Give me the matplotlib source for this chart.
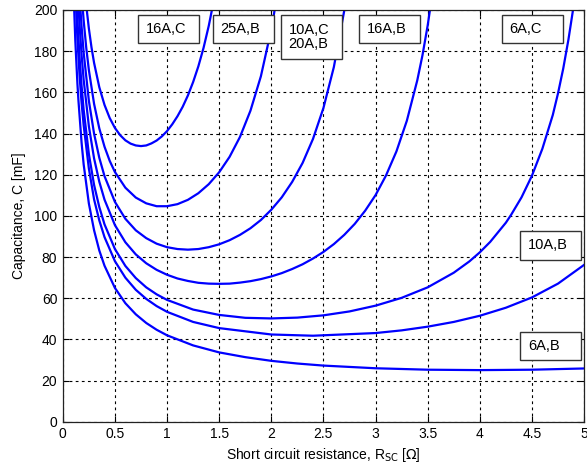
import numpy as np
import matplotlib
matplotlib.use("Agg")
import matplotlib.pyplot as plt
from matplotlib.patches import Rectangle

plt.rcParams['font.family'] = ['Liberation Sans', 'DejaVu Sans']

# curves: resistance [ohm] and capacitance [mF]
r_16AC = [0.15, 0.175, 0.2, 0.225, 0.25, 0.275, 0.3, 0.35, 0.4, 0.45, 0.5, 0.55, 0.6, 0.65, 0.7, 0.75, 0.8,
          0.85, 0.9, 0.95, 1.0, 1.05, 1.1, 1.15, 1.2, 1.25, 1.3, 1.35, 1.4, 1.45, 1.5]
c_16AC = [255.9, 233.1, 215.7, 202.1, 191.0, 181.9, 174.3, 162.5, 153.9, 147.5, 142.7, 139.2, 136.7, 135.1, 134.2,
          133.9, 134.2, 135.2, 136.6, 138.6, 141.2, 144.5, 148.4, 153.0, 158.5, 165.0, 172.6, 181.6, 192.3, 205.0, 220.4]

r_25AB = [0.12, 0.14, 0.16, 0.18, 0.2, 0.225, 0.25, 0.3, 0.35, 0.4, 0.45, 0.5, 0.6, 0.7, 0.8, 0.9, 1.0, 1.1,
          1.2, 1.3, 1.4, 1.5, 1.6, 1.7, 1.8, 1.9, 2.0, 2.05, 2.1]
c_25AB = [270.9, 244.5, 224.2, 208.0, 194.9, 181.6, 170.8, 154.4, 142.5, 133.6, 126.7, 121.3, 113.7, 108.9, 106.1,
          104.7, 104.7, 105.7, 107.8, 111.0, 115.4, 121.2, 128.7, 138.4, 151.1, 167.8, 190.6, 205.2, 222.9]

r_10AC = [0.1, 0.12, 0.14, 0.16, 0.18, 0.2, 0.25, 0.3, 0.35, 0.4, 0.5, 0.6, 0.7, 0.8, 0.9, 1.0, 1.1, 1.2, 1.3,
          1.4, 1.5, 1.6, 1.7, 1.8, 1.9, 2.0, 2.1, 2.2, 2.3, 2.4, 2.5, 2.6, 2.7, 2.8]
c_10AC = [287.3, 252.6, 227.1, 207.5, 192.0, 179.3, 155.9, 139.9, 128.2, 119.3, 106.8, 98.6, 93.0, 89.2, 86.5,
          84.8, 83.9, 83.6, 83.9, 84.8, 86.2, 88.2, 90.8, 94.0, 98.0, 103.0, 109.0, 116.5, 125.7, 137.4, 152.4,
          172.3, 199.8, 239.5]

r_16AB = [0.08, 0.1, 0.12, 0.14, 0.16, 0.18, 0.2, 0.25, 0.3, 0.35, 0.4, 0.5, 0.6, 0.7, 0.8, 0.9, 1.0, 1.1, 1.2,
          1.3, 1.4, 1.5, 1.6, 1.7, 1.8, 1.9, 2.0, 2.1, 2.2, 2.3, 2.4, 2.5, 2.6, 2.7, 2.8, 2.9, 3.0, 3.1, 3.2,
          3.3, 3.4, 3.45, 3.5, 3.55, 3.6]
c_16AB = [318.3, 270.0, 236.6, 212.1, 193.3, 178.3, 166.1, 143.5, 127.9, 116.6, 107.9, 95.5, 87.2, 81.3, 77.0,
          73.8, 71.4, 69.6, 68.4, 67.5, 67.1, 67.0, 67.1, 67.6, 68.3, 69.3, 70.6, 72.2, 74.2, 76.5, 79.3, 82.5,
          86.3, 90.8, 96.1, 102.5, 110.1, 119.6, 131.3, 146.2, 165.8, 178.0, 192.5, 209.7, 231.0]

r_6AC = [0.06, 0.08, 0.1, 0.12, 0.14, 0.16, 0.18, 0.2, 0.25, 0.3, 0.35, 0.4, 0.5, 0.6, 0.7, 0.8, 0.9, 1.0, 1.25,
         1.5, 1.75, 2.0, 2.25, 2.5, 2.75, 3.0, 3.25, 3.5, 3.75, 3.9, 4.0, 4.1, 4.25, 4.3, 4.4, 4.5, 4.6, 4.7,
         4.75, 4.8, 4.85, 4.9, 4.95, 5.0]
c_6AC = [370, 297, 250, 219, 195.4, 177.4, 163.2, 151.5, 130, 115, 104.3, 95.9, 83.9, 75.7, 69.8, 65.3, 61.9,
         59.2, 54.5, 51.9, 50.5, 50.2, 50.6, 51.7, 53.6, 56.4, 60.2, 65.3, 72.4, 77.9, 82.3, 87.4, 96.7, 100.5,
         109.0, 119.5, 132.6, 149, 159.5, 171.5, 185.6, 202, 222.7, 248]

r_10AB = [0.06, 0.08, 0.1, 0.12, 0.14, 0.16, 0.18, 0.2, 0.25, 0.3, 0.35, 0.4, 0.5, 0.6, 0.7, 0.8, 0.9, 1.0,
          1.25, 1.5, 2.0, 2.4, 3.0, 3.25, 3.5, 3.75, 4.0, 4.25, 4.5, 4.75, 5.0]
c_10AB = [356, 284, 240, 209, 186.1, 168.7, 154.9, 144, 123, 108, 97.8, 89.7, 78.0, 70.0, 64.1, 59.7, 56.2,
          53.4, 48.5, 45.5, 42.4, 41.8, 43.1, 44.4, 46.2, 48.5, 51.5, 55.4, 60.4, 67.1, 76.2]

r_6AB = [0.06, 0.08, 0.1, 0.12, 0.14, 0.15, 0.18, 0.2, 0.25, 0.3, 0.35, 0.4, 0.5, 0.6, 0.7, 0.8, 0.9, 1.0,
         1.25, 1.5, 1.75, 2.0, 2.25, 2.5, 3.0, 3.5, 4.0, 4.5, 5.0]
c_6AB = [321, 254, 213, 185, 164.3, 156, 135.6, 125, 106, 93, 83.2, 75.8, 65.0, 57.6, 52.2, 48.0, 44.7, 42.0,
         37.1, 33.7, 31.4, 29.6, 28.3, 27.3, 26.0, 25.3, 25.1, 25.3, 25.9]

curves = [(r_16AC, c_16AC), (r_25AB, c_25AB), (r_10AC, c_10AC), (r_16AB, c_16AB),
          (r_6AC, c_6AC), (r_10AB, c_10AB), (r_6AB, c_6AB)]

labels = ["16A,C", "25A,B", "10A,C\n20A,B", "16A,B", "6A,C", "10A,B", "6A,B"]
# box left / top corners in data units
label_pos = [(0.72, 197.5), (1.44, 197.5), (2.09, 197.5), (2.84, 197.5), (4.21, 197.5), (4.39, 92.5), (4.39, 43.5)]

fig = plt.figure(figsize=(5.87, 4.75), dpi=100)
ax = fig.add_axes([0.107, 0.112, 0.888, 0.867])

for r, c in curves:
    ax.plot(r, c, color=(0, 0, 1), lw=1.6)

bw = 0.585
for text, (x0, y0) in zip(labels, label_pos):
    h = 21.5 if "\n" in text else 13.7
    ax.add_patch(Rectangle((x0, y0 - h), bw, h, fc="white", ec="#333333", lw=1.0, zorder=5))
    ax.text(x0 + 0.075, y0 - h / 2, text, ha="left", va="center", fontsize=10.5,
            linespacing=1.0, zorder=6)

ax.set_xlim(0, 5)
ax.set_ylim(0, 200)
ax.set_xticks(np.arange(0, 5.01, 0.5))
ax.set_xticklabels(["0", "0.5", "1", "1.5", "2", "2.5", "3", "3.5", "4", "4.5", "5"])
ax.set_yticks(np.arange(0, 201, 20))
ax.grid(True, color="black", linestyle=(0, (2.5, 3)), linewidth=0.8)
ax.tick_params(direction="in", length=4, top=True, right=True, labelsize=10, pad=4)
for s in ax.spines.values():
    s.set_color("#222222")
    s.set_linewidth(0.9)

ax.set_xlabel(r"Short circuit resistance, R$_{\rm SC}$ [$\Omega$]", fontsize=10, labelpad=3)
ax.set_ylabel("Capacitance, C [mF]", fontsize=10, labelpad=6)

fig.savefig("out.png", dpi=100)
